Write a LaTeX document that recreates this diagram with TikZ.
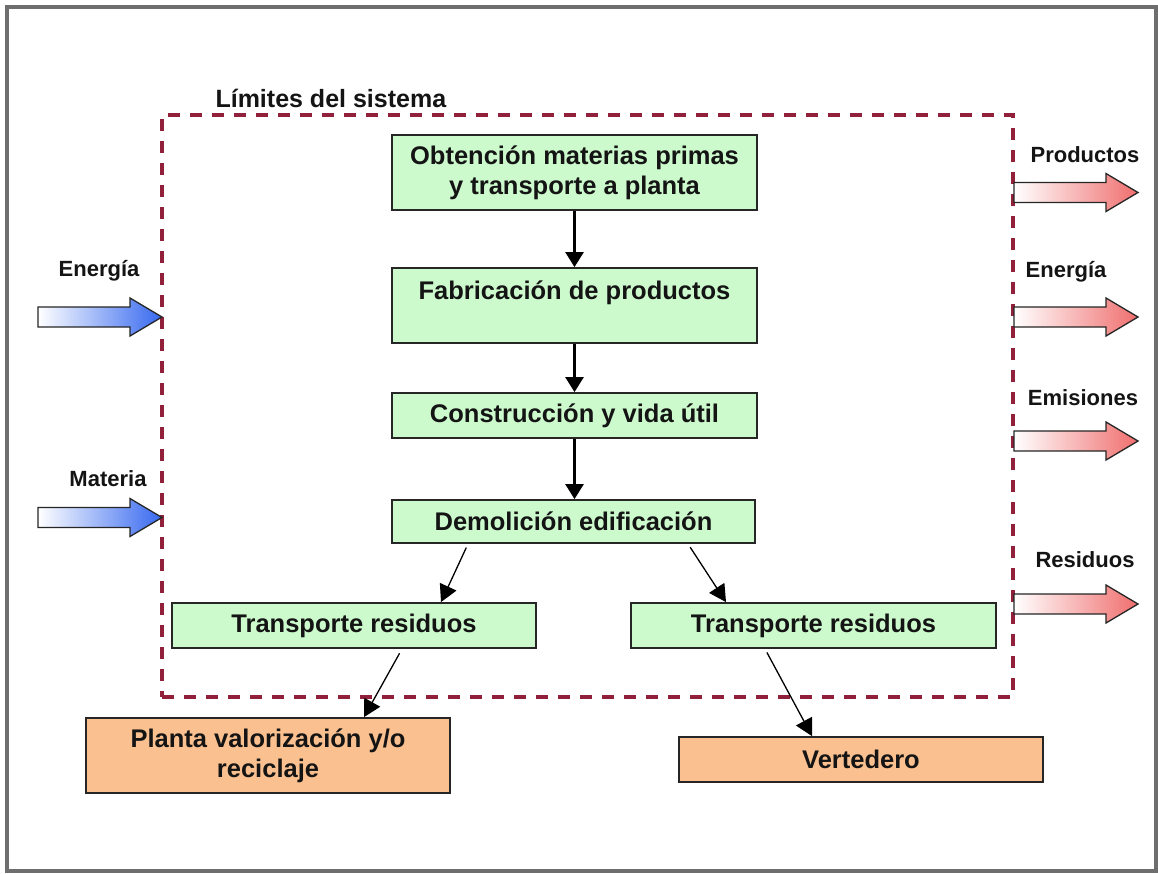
\documentclass[tikz,border=0pt]{standalone}
\usepackage{fontspec}
\setmainfont{Liberation Sans}
\usetikzlibrary{arrows.meta}

\definecolor{boxgreen}{RGB}{204,250,204}
\definecolor{boxorange}{RGB}{250,192,143}
\definecolor{limitred}{RGB}{145,32,58}
\definecolor{inblue}{RGB}{55,105,240}
\definecolor{outred}{RGB}{240,110,110}
\definecolor{framegray}{RGB}{110,110,110}
\definecolor{ink}{RGB}{20,20,20}

% block arrow: #1 left x, #2 centre y, #3 end colour of the gradient
\newcommand{\flowarrow}[3]{%
  \path[draw=black!85, line width=1.3pt, left color=white, right color=#3]
    (#1,#2-10) -- ++(92,0) -- ++(0,-9) -- ++(32,19) -- ++(-32,19)
    -- ++(0,-9) -- ++(-92,0) -- cycle;}

\tikzset{
  stage/.style={draw=black!85, line width=1.8pt, fill=boxgreen, text=ink,
    font=\fontsize{25.5}{30}\selectfont\bfseries, align=center, inner sep=0pt},
  sink/.style={stage, fill=boxorange},
  limit/.style={draw=limitred, line width=3.3pt, dash pattern=on 12pt off 10pt},
  flowlabel/.style={text=ink, font=\fontsize{22}{26}\selectfont\bfseries, anchor=base},
  mainflow/.style={draw=black, line width=2.6pt, -{Triangle[length=15pt,width=18pt]}},
  sideflow/.style={draw=black, line width=1.3pt, -{Triangle[length=17pt,width=18pt]}},
}

\begin{document}
\begin{tikzpicture}[x=1pt,y=-1pt]
  \useasboundingbox (0,0) rectangle (1158,873);
  \fill[white] (0,0) rectangle (1158,873);
  \draw[framegray, line width=4pt] (6.5,6.5) rectangle (1156,871);

  % system boundary
  \node[limit, minimum width=851pt, minimum height=582pt, inner sep=0pt] (sys) at (587.5,406) {};
  \node[text=ink, font=\fontsize{25}{30}\selectfont\bfseries, anchor=base west] (limlabel) at (212,107) {Límites del sistema};

  % process chain
  \node[stage, minimum width=365pt, minimum height=75pt] (b1) at (574.5,172.5) {Obtención materias primas\\y transporte a planta};
  \node[stage, minimum width=365pt, minimum height=75pt] (b2) at (574.5,305.5) {Fabricación de productos\\\mbox{}};
  \node[stage, minimum width=365pt, minimum height=45pt] (b3) at (574.5,415.5) {Construcción y vida útil};
  \node[stage, minimum width=363pt, minimum height=43pt] (b4) at (573.5,521.5) {Demolición edificación};
  \node[stage, minimum width=364pt, minimum height=45pt] (b5) at (354,625.5) {Transporte residuos};
  \node[stage, minimum width=365pt, minimum height=45pt] (b6) at (813.5,625.5) {Transporte residuos};
  \node[sink, minimum width=364pt, minimum height=75pt] (b7) at (268,755.5) {Planta valorización y/o\\reciclaje};
  \node[sink, minimum width=364pt, minimum height=45pt] (b8) at (861,759.5) {Vertedero};

  \draw[mainflow] (b1.south) -- (b1.south |- b2.north);
  \draw[mainflow] (b2.south) -- (b2.south |- b3.north);
  \draw[mainflow] (b3.south) -- (b3.south |- b4.north);
  \draw[sideflow, shorten <=4pt] ([xshift=-105.5pt]b4.south) -- ([xshift=87pt]b5.north);
  \draw[sideflow, shorten <=4pt] ([xshift=114.5pt]b4.south) -- ([xshift=-87.5pt]b6.north);
  \draw[sideflow, shorten <=5pt] ([xshift=48pt]b5.south) -- ([xshift=96pt]b7.north);
  \draw[sideflow, shorten <=4pt] ([xshift=-48.5pt]b6.south) -- ([xshift=-49pt]b8.north);

  % inputs
  \flowarrow{38}{317}{inblue}
  \flowarrow{38}{517.5}{inblue}
  \node[flowlabel] (inE) at (99,276) {Energía};
  \node[flowlabel] (inM) at (108,486) {Materia};

  % outputs
  \flowarrow{1014}{192.5}{outred}
  \flowarrow{1014}{317}{outred}
  \flowarrow{1014}{441}{outred}
  \flowarrow{1014}{604}{outred}
  \node[flowlabel] (outP) at (1085,162) {Productos};
  \node[flowlabel] (outE) at (1066,277) {Energía};
  \node[flowlabel] (outEm) at (1083,405) {Emisiones};
  \node[flowlabel] (outR) at (1085,567) {Residuos};
\end{tikzpicture}
\end{document}
